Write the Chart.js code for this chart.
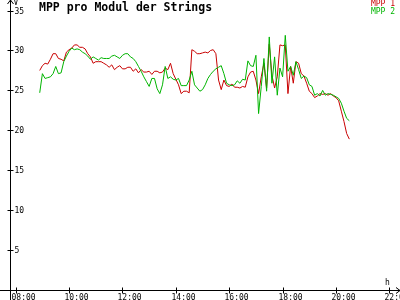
<!DOCTYPE html>
<html lang="de">
<head>
  <meta charset="UTF-8">
  <title>MPP pro Modul der Strings</title>
  <style>
    body {
      margin: 0;
      padding: 0;
      background: #ffffff;
    }
    #wrap {
      width: 400px;
      height: 300px;
    }
  </style>
  <script src="https://cdn.jsdelivr.net/npm/chart.js"></script>
</head>
<body>
  <div id="wrap">
    <canvas id="mppChart" width="400" height="300"></canvas>
  </div>
  <script>
    // Messwerte (Volt), alle 6 Minuten ab 08:54
    const startHour = 8.9;
    const stepHour = 0.1;

    const mpp1 = [
      27.5, 28.1, 28.4, 28.3, 28.9, 29.6, 29.6, 29.0, 28.9, 28.7,
      29.8, 30.1, 30.3, 30.7, 30.7, 30.4, 30.4, 30.2, 29.6, 29.2,
      28.4, 28.6, 28.6, 28.6, 28.4, 28.2, 27.9, 28.2, 27.6, 27.9,
      28.1, 27.7, 27.7, 27.9, 27.9, 27.4, 27.7, 27.2, 27.6, 27.3,
      27.3, 27.4, 27.0, 27.4, 27.4, 27.2, 27.3, 27.8, 27.6, 28.4,
      27.1, 26.4, 25.7, 24.6, 24.9, 24.9, 24.7, 30.1, 29.9, 29.6,
      29.6, 29.7, 29.8, 29.7, 30.0, 30.1, 29.6, 26.3, 25.1, 26.3,
      25.6, 25.5, 25.8, 25.4, 25.4, 25.3, 25.5, 25.4, 26.7, 27.3,
      27.4, 26.3, 24.6, 26.7, 28.4, 25.3, 30.8, 26.9, 25.3, 26.7,
      30.7, 30.6, 30.7, 24.6, 28.0, 25.9, 28.6, 28.4, 27.1, 26.8,
      25.9, 24.9, 24.6, 24.1, 24.3, 24.6, 24.5, 24.6, 24.4, 24.6,
      24.3, 24.1, 23.7, 22.4, 21.1, 19.6, 18.9
    ];

    const mpp2 = [
      24.7, 27.1, 26.5, 26.6, 26.7, 27.1, 28.0, 27.1, 27.2, 28.6,
      29.3, 29.9, 30.3, 30.1, 30.2, 30.1, 29.8, 29.6, 29.3, 28.9,
      29.2, 29.0, 28.8, 29.1, 29.0, 29.0, 29.0, 29.3, 29.4, 29.2,
      29.0, 29.4, 29.6, 29.6, 29.2, 29.0, 28.6, 28.0, 27.4, 26.7,
      26.1, 25.5, 26.5, 26.5, 25.2, 24.6, 25.7, 28.0, 26.5, 26.7,
      26.4, 26.3, 26.5, 25.6, 25.6, 25.6, 26.3, 27.4, 25.7, 25.3,
      24.9, 25.1, 25.7, 26.5, 27.0, 27.4, 27.7, 27.9, 28.1, 27.1,
      25.9, 25.7, 25.6, 25.7, 26.2, 25.9, 26.4, 26.3, 28.7, 28.1,
      28.0, 29.4, 22.1, 25.5, 29.0, 24.9, 31.7, 25.9, 29.2, 24.4,
      27.8, 26.7, 31.9, 27.4, 28.0, 26.9, 28.6, 27.6, 26.5, 26.8,
      26.6, 25.7, 25.5, 24.4, 24.6, 24.3, 25.0, 24.4, 24.6, 24.5,
      24.4, 24.2, 24.0, 23.4, 22.4, 21.5, 21.2
    ];

    const yTicks = [5, 10, 15, 20, 25, 30, 35];
    const xTicks = ['08:00', '10:00', '12:00', '14:00', '16:00', '18:00', '20:00', '22:00'];

    const red = '#c80000';
    const green = '#00b400';
    const monoFont = '"DejaVu Sans Mono", "Liberation Mono", monospace';

    function toPoints(values) {
      return values.map((v, i) => ({ x: startHour + i * stepHour, y: v }));
    }

    function hourOf(label) {
      const parts = label.split(':');
      return parseInt(parts[0], 10) + parseInt(parts[1], 10) / 60;
    }

    // Achsen, Pfeile, Beschriftungen, Titel und Legende
    const axisPlugin = {
      id: 'axisPlugin',
      afterDraw(chart) {
        const ctx = chart.ctx;
        const xs = chart.scales.x;
        const ys = chart.scales.y;
        const area = chart.chartArea;
        const ax = Math.round(area.left) + 0.5;
        const ay = Math.round(ys.getPixelForValue(0)) + 0.5;

        ctx.save();
        ctx.strokeStyle = '#000';
        ctx.fillStyle = '#000';
        ctx.lineWidth = 1;

        // Achsenlinien
        ctx.beginPath();
        ctx.moveTo(ax, 300);
        ctx.lineTo(ax, 0);
        ctx.moveTo(0, ay);
        ctx.lineTo(400, ay);
        ctx.stroke();

        // Pfeilspitzen
        ctx.beginPath();
        ctx.moveTo(ax - 3, 4);
        ctx.lineTo(ax, 0);
        ctx.lineTo(ax + 3, 4);
        ctx.moveTo(396, ay - 3);
        ctx.lineTo(400, ay);
        ctx.lineTo(396, ay + 3);
        ctx.stroke();

        ctx.font = '8px ' + monoFont;

        // Y-Ticks
        ctx.textAlign = 'left';
        ctx.textBaseline = 'middle';
        yTicks.forEach(t => {
          const py = Math.round(ys.getPixelForValue(t)) + 0.5;
          ctx.beginPath();
          ctx.moveTo(ax - 3, py);
          ctx.lineTo(ax + 3, py);
          ctx.stroke();
          ctx.fillText(String(t), ax + 4, py + 0.5);
        });

        // X-Ticks
        ctx.textBaseline = 'top';
        xTicks.forEach(t => {
          const px = Math.round(xs.getPixelForValue(hourOf(t))) + 0.5;
          ctx.beginPath();
          ctx.moveTo(px, ay - 3);
          ctx.lineTo(px, ay + 3);
          ctx.stroke();
          ctx.fillText(t, px - 5, ay + 3);
        });

        // Einheiten
        ctx.fillText('V', ax + 3, -1);
        ctx.fillText('h', 385, ay - 12);

        // Titel
        ctx.font = 'bold 11.5px ' + monoFont;
        ctx.textBaseline = 'alphabetic';
        ctx.fillText('MPP pro Modul der Strings', 39, 11);

        // Legende
        ctx.font = '8px ' + monoFont;
        ctx.textAlign = 'right';
        ctx.textBaseline = 'top';
        ctx.fillStyle = red;
        ctx.fillText('MPP 1', 395, 0);
        ctx.fillStyle = green;
        ctx.fillText('MPP 2', 395, 8);

        ctx.restore();
      }
    };

    new Chart(document.getElementById('mppChart'), {
      type: 'line',
      data: {
        datasets: [
          {
            label: 'MPP 1',
            data: toPoints(mpp1),
            borderColor: red,
            borderWidth: 1,
            pointRadius: 0,
            tension: 0,
            order: 1
          },
          {
            label: 'MPP 2',
            data: toPoints(mpp2),
            borderColor: green,
            borderWidth: 1,
            pointRadius: 0,
            tension: 0,
            order: 0
          }
        ]
      },
      options: {
        responsive: false,
        animation: false,
        devicePixelRatio: 1,
        layout: {
          padding: { left: 10, top: 1, right: 3, bottom: 10 }
        },
        plugins: {
          legend: { display: false },
          tooltip: { enabled: false }
        },
        scales: {
          x: {
            type: 'linear',
            display: false,
            min: 7.786,
            max: 22.286
          },
          y: {
            type: 'linear',
            display: false,
            min: 0,
            max: 36.2
          }
        }
      },
      plugins: [axisPlugin]
    });
  </script>
</body>
</html>
